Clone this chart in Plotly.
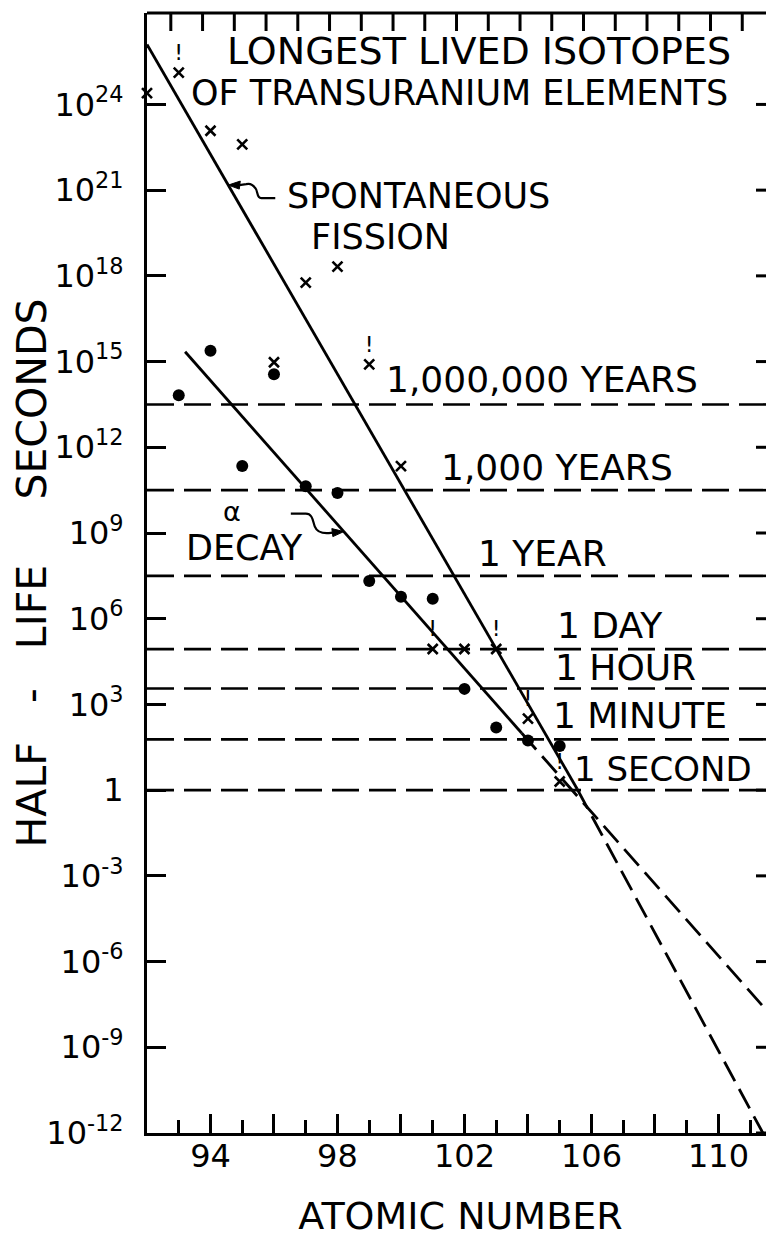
import plotly.graph_objects as go
import math

FONT = "DejaVu Sans"
INK = "black"

# ---------------- data ----------------
# spontaneous fission half-lives (seconds), "x" marks
sf_z = [92, 93, 94, 95, 96, 97, 98, 99, 100, 101, 102, 103, 104, 105]
sf_halflife = [2.5e24, 1.3e25, 1.2e23, 4.0e22, 9.5e14, 5.8e17, 2.1e18, 8.0e14,
               2.2e11, 8.7e4, 8.7e4, 8.7e4, 3.2e2, 2.0]
sf_lower_limit = [0, 1, 0, 0, 0, 0, 0, 1, 0, 1, 0, 1, 1, 1]

# alpha decay half-lives (seconds), dots
alpha_z = [93, 94, 95, 96, 97, 98, 99, 100, 101, 102, 103, 104, 105]
alpha_halflife = [6.6e13, 2.4e15, 2.2e11, 3.6e14, 4.3e10, 2.5e10, 2.1e7, 5.9e6,
                  5.0e6, 3.5e3, 1.55e2, 55, 35]

# trend lines (solid) and their extrapolations (dashed)
sf_fit_z = [92.0, 105.55]
sf_fit_t = [1.26e26, 1.1]
sf_extrap_z = [105.55, 111.4]
sf_extrap_t = [1.1, 1e-12]
alpha_fit_z = [93.2, 103.8]
alpha_fit_t = [2.2e15, 1.0e2]
alpha_extrap_z = [103.8, 111.75]
alpha_extrap_t = [1.0e2, 1.0e-8]

# reference time scales (seconds)
ref_t = [3.156e13, 3.156e10, 3.156e7, 86400, 3600, 60, 1]
ref_labels = ["1,000,000 YEARS", "1,000 YEARS", "1 YEAR", "1 DAY", "1 HOUR",
              "1 MINUTE", "1 SECOND"]

# axis ticks
x_major = [94, 96, 98, 100, 102, 104, 106, 108, 110]
x_labels = ["94", "", "98", "", "102", "", "106", "", "110"]
x_minor = [93, 95, 97, 99, 101, 103, 105, 107, 109, 111]
x_top = [92.75 + k for k in range(19)]
y_pows = list(range(-12, 25, 3))
y_vals = [10.0 ** p for p in y_pows]
y_text = ["1" if p == 0 else "10<sup>%d</sup>" % p for p in y_pows]

# ---------------- geometry ----------------
X0, X1 = 92.0, 111.75
L0, L1 = -12.0, 27.2
PW, PH = 627.0, 1120.0


def xp(z):
    return (z - X0) / (X1 - X0)


def yp(L):
    return (L - L0) / (L1 - L0)


def on_line(zs, ts, z):
    la, lb = math.log10(ts[0]), math.log10(ts[1])
    return la + (lb - la) * (z - zs[0]) / (zs[1] - zs[0])


fig = go.Figure()

# reference dashed lines
for t in ref_t:
    fig.add_trace(go.Scatter(x=[X0, X1], y=[t, t], mode="lines",
                             line=dict(color=INK, width=2.6, dash="27px,10px"),
                             hoverinfo="skip", showlegend=False))

# trend lines
fig.add_trace(go.Scatter(x=sf_fit_z, y=sf_fit_t, mode="lines",
                         line=dict(color=INK, width=2.8), showlegend=False))
fig.add_trace(go.Scatter(x=sf_extrap_z, y=sf_extrap_t, mode="lines",
                         line=dict(color=INK, width=2.8, dash="22px,9px"),
                         showlegend=False))
fig.add_trace(go.Scatter(x=alpha_fit_z, y=alpha_fit_t, mode="lines",
                         line=dict(color=INK, width=2.8), showlegend=False))
fig.add_trace(go.Scatter(x=alpha_extrap_z, y=alpha_extrap_t, mode="lines",
                         line=dict(color=INK, width=2.8, dash="22px,9px"),
                         showlegend=False))

# data points
fig.add_trace(go.Scatter(x=alpha_z, y=alpha_halflife, mode="markers",
                         marker=dict(symbol="circle", size=12, color=INK),
                         name="alpha decay", showlegend=False))
fig.add_trace(go.Scatter(x=sf_z, y=sf_halflife, mode="markers+text",
                         marker=dict(symbol="x-thin-open", size=10, color=INK,
                                     line=dict(color=INK, width=2.6)),
                         text=["!" if f else "" for f in sf_lower_limit],
                         textposition="top center",
                         textfont=dict(family=FONT, size=22, color=INK),
                         cliponaxis=False,
                         name="spontaneous fission", showlegend=False))

# ---------------- annotations ----------------
ann = []


def text(t, x, y, size, xref="x", yref="y"):
    ann.append(dict(text=t, x=x, y=y, xref=xref, yref=yref, showarrow=False,
                    xanchor="center", yanchor="middle",
                    font=dict(family=FONT, size=size, color=INK)))


text("LONGEST LIVED ISOTOPES", 0.530, 0.9665, 38, "paper", "paper")
text("OF TRANSURANIUM ELEMENTS", 0.499, 0.9285, 35, "paper", "paper")
text("SPONTANEOUS", 100.54, 20.80, 35)
text("FISSION", 99.37, 19.37, 35)
text("α", 94.68, 9.74, 27)
text("DECAY", 95.06, 8.48, 35)

label_pos = [(104.43, 14.39), (104.93, 11.28), (104.46, 8.27), (106.58, 5.77),
             (107.06, 4.30), (107.54, 2.60), (108.25, 0.73)]
label_size = [36, 36, 36, 36, 36, 36, 34]
for lab, (zx, ly), sz in zip(ref_labels, label_pos, label_size):
    text(lab, zx, ly, sz)

# ---------------- frame decorations (top border and ticks, right ticks) ----------------
shapes = []
TL = 18.0
shapes.append(dict(type="line", xref="paper", yref="paper", x0=0, x1=1, y0=1, y1=1,
                   line=dict(color=INK, width=3)))
for xt in x_top:
    shapes.append(dict(type="line", xref="x", yref="paper", x0=xt, x1=xt,
                       y0=1, y1=1 - TL / PH, line=dict(color=INK, width=3)))
for p in y_pows:
    shapes.append(dict(type="line", xref="paper", yref="paper", x0=1 - TL / PW, x1=1,
                       y0=yp(p), y1=yp(p), line=dict(color=INK, width=3)))


# ---------------- leader squiggles with arrowheads ----------------
def leader(tipz, tipL, pts_path, head):
    bx, by = xp(tipz), yp(tipL)

    def P(dx, dy):
        return "%.5f,%.5f" % (bx + dx / PW, by - dy / PH)

    path = ""
    for cmd, pts in pts_path:
        path += cmd + " " + " ".join(P(*p) for p in pts) + " "
    shapes.append(dict(type="path", xref="paper", yref="paper", path=path.strip(),
                       line=dict(color=INK, width=2.2)))
    hp = "M " + P(0, 0) + " L " + P(*head[0]) + " L " + P(*head[1]) + " Z"
    shapes.append(dict(type="path", xref="paper", yref="paper", path=hp,
                       fillcolor=INK, line=dict(color=INK, width=1)))


sf_tip_z = 94.56
leader(sf_tip_z, on_line(sf_fit_z, sf_fit_t, sf_tip_z),
       [("M", [(47, 13)]), ("L", [(33, 13)]),
        ("C", [(28, 13), (30, 6), (27, 3)]),
        ("C", [(25, 0), (22, -2), (18, -1)]), ("L", [(11, 0)])],
       [(12, -4), (11, 4)])

a_tip_z = 98.2
leader(a_tip_z, on_line(alpha_fit_z, alpha_fit_t, a_tip_z),
       [("M", [(-53, -18)]), ("L", [(-38, -18)]),
        ("C", [(-31, -18), (-31, -10), (-29, -5)]),
        ("C", [(-27, 0), (-22, 2), (-15, 1.5)]), ("L", [(-11, 1)])],
       [(-12, -3), (-11, 5)])

axis_common = dict(showgrid=False, zeroline=False, linecolor=INK, tickcolor=INK)

NB = "\u00a0"
y_title = "HALF" + NB * 3 + "-" + NB * 3 + "LIFE" + NB * 5 + "SECONDS"

# the page body adds an 8px offset, so the figure is 8px smaller and margins
# are reduced accordingly to land the plot frame where the reference has it
fig.update_layout(
    width=766, height=1249, autosize=False,
    margin=dict(l=139, r=0, t=5, b=124, pad=0),
    paper_bgcolor="white", plot_bgcolor="white",
    showlegend=False,
    font=dict(family=FONT, color=INK),
    annotations=ann, shapes=shapes,
    xaxis=dict(range=[X0, X1], showline=True, linewidth=3,
               ticks="inside", ticklen=19, tickwidth=3,
               tickmode="array", tickvals=x_major, ticktext=x_labels,
               tickfont=dict(family=FONT, size=32, color=INK),
               ticklabelstandoff=-7,
               minor=dict(ticks="inside", ticklen=13, tickwidth=3, tickcolor=INK,
                          tickmode="array", tickvals=x_minor, showgrid=False),
               title=dict(text="ATOMIC NUMBER", standoff=28,
                          font=dict(family=FONT, size=38, color=INK)),
               **axis_common),
    yaxis=dict(type="log", range=[L0, L1], showline=True, linewidth=3,
               ticks="inside", ticklen=19, tickwidth=3,
               tickmode="array", tickvals=y_vals, ticktext=y_text,
               tickfont=dict(family=FONT, size=32, color=INK),
               ticklabelstandoff=14,
               title=dict(text=y_title, standoff=11,
                          font=dict(family=FONT, size=41, color=INK)),
               **axis_common),
)

fig.write_html("out.html")
